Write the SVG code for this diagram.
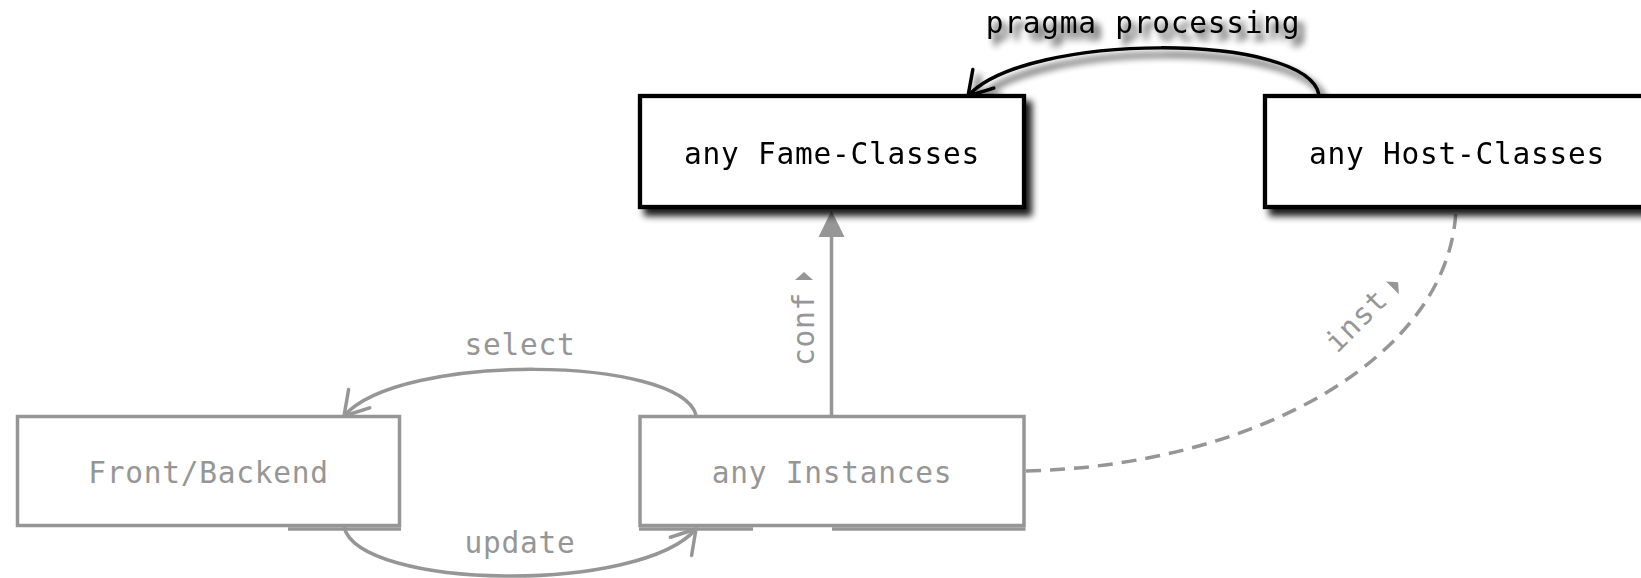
<svg xmlns="http://www.w3.org/2000/svg" width="1641" height="578" viewBox="0 0 1641 578">
  <style>
    .txt { font-family: "DejaVu Sans Mono", "Liberation Mono", monospace; font-size: 29.5px; letter-spacing: 0.75px; }
    .mid { text-anchor: middle; }
    .ink { fill: #000; }
    .soft { fill: #969696; }
    .frame-dark { fill: #fff; stroke: #000; stroke-width: 4.3; }
    .frame-light { fill: #fff; stroke: #969696; stroke-width: 3.5; }
    .ledge { stroke: #969696; stroke-width: 3.5; }
    .edge-dark { fill: none; stroke: #000; stroke-width: 3.5; }
    .edge-light { fill: none; stroke: #969696; stroke-width: 3.5; }
    .dashed { stroke-dasharray: 15 9; }
  </style>
  <defs>
    <filter id="drop" x="-10%" y="-30%" width="130%" height="180%">
      <feGaussianBlur in="SourceAlpha" stdDeviation="3.8"/>
      <feOffset dx="6" dy="7" result="off"/>
      <feComponentTransfer in="off" result="sh">
        <feFuncA type="linear" slope="0.9"/>
      </feComponentTransfer>
      <feMerge>
        <feMergeNode in="sh"/>
        <feMergeNode in="SourceGraphic"/>
      </feMerge>
    </filter>
    <marker id="open-dark" markerUnits="userSpaceOnUse" viewBox="-30 -20 34 40" refX="0" refY="0" markerWidth="34" markerHeight="40" orient="auto" overflow="visible">
      <path d="M -23,-14 L 0,0 L -23,14" fill="none" stroke="#000" stroke-width="3.5" stroke-linecap="round" stroke-linejoin="round"/>
    </marker>
    <marker id="open-light" markerUnits="userSpaceOnUse" viewBox="-30 -20 34 40" refX="0" refY="0" markerWidth="34" markerHeight="40" orient="auto" overflow="visible">
      <path d="M -23,-14 L 0,0 L -23,14" fill="none" stroke="#969696" stroke-width="3.5" stroke-linecap="round" stroke-linejoin="round"/>
    </marker>
  </defs>
  <rect width="1641" height="578" fill="#fff"/>

  <!-- connectors -->
  <g id="connectors">
    <g id="edge-pragma" filter="url(#drop)">
      <path class="edge-dark" d="M 1319 95 C 1308 32, 1025 32, 968 96" marker-end="url(#open-dark)"/>
      <text class="txt mid ink" x="1143" y="32.5">pragma processing</text>
    </g>
    <g id="edge-select">
      <path class="edge-light" d="M 696 415 C 680 356, 400 352, 344 416" marker-end="url(#open-light)"/>
      <text class="txt mid soft" x="520" y="355">select</text>
    </g>
    <g id="edge-update">
      <path class="edge-light" d="M 344 527 C 360 590, 640 594, 696 529" marker-end="url(#open-light)"/>
      <text class="txt mid soft" x="520" y="553">update</text>
    </g>
    <g id="edge-conf">
      <line class="ledge" x1="831.5" y1="416" x2="831.5" y2="234"/>
      <polygon points="831.5,210.5 818.5,237 844.5,237" fill="#969696"/>
      <g transform="translate(813.5 366) rotate(-90)">
        <text class="txt soft" x="0" y="0">conf</text>
        <polygon points="86,-18.5 86,-0.5 94,-9.5" fill="#969696"/>
      </g>
    </g>
    <g id="edge-inst">
      <path class="edge-light dashed" d="M 1026 471 C 1250 466, 1450 360, 1456 209"/>
      <g transform="translate(1337 354) rotate(-45)">
        <text class="txt soft" x="0" y="0">inst</text>
        <polygon points="86,-16.5 86,1.5 94,-7.5" fill="#969696"/>
      </g>
    </g>
  </g>

  <!-- nodes -->
  <g id="node-fame" filter="url(#drop)">
    <rect class="frame-dark" x="640" y="96" width="384" height="111"/>
    <text class="txt mid ink" x="832" y="163.5">any Fame-Classes</text>
  </g>
  <g id="node-host" filter="url(#drop)">
    <rect class="frame-dark" x="1265" y="96" width="384" height="111"/>
    <text class="txt mid ink" x="1457" y="163.5">any Host-Classes</text>
  </g>
  <g id="node-frontend">
    <rect class="frame-light" x="17.5" y="416.5" width="382" height="109"/>
    <line class="ledge" x1="288" y1="529" x2="401" y2="529"/>
    <text class="txt mid soft" x="208.5" y="482.5">Front/Backend</text>
  </g>
  <g id="node-instances">
    <rect class="frame-light" x="640" y="416.5" width="384" height="109"/>
    <line class="ledge" x1="639" y1="529" x2="753" y2="529"/>
    <line class="ledge" x1="832" y1="529" x2="1025.5" y2="529"/>
    <text class="txt mid soft" x="832" y="482.5">any Instances</text>
  </g>
</svg>
